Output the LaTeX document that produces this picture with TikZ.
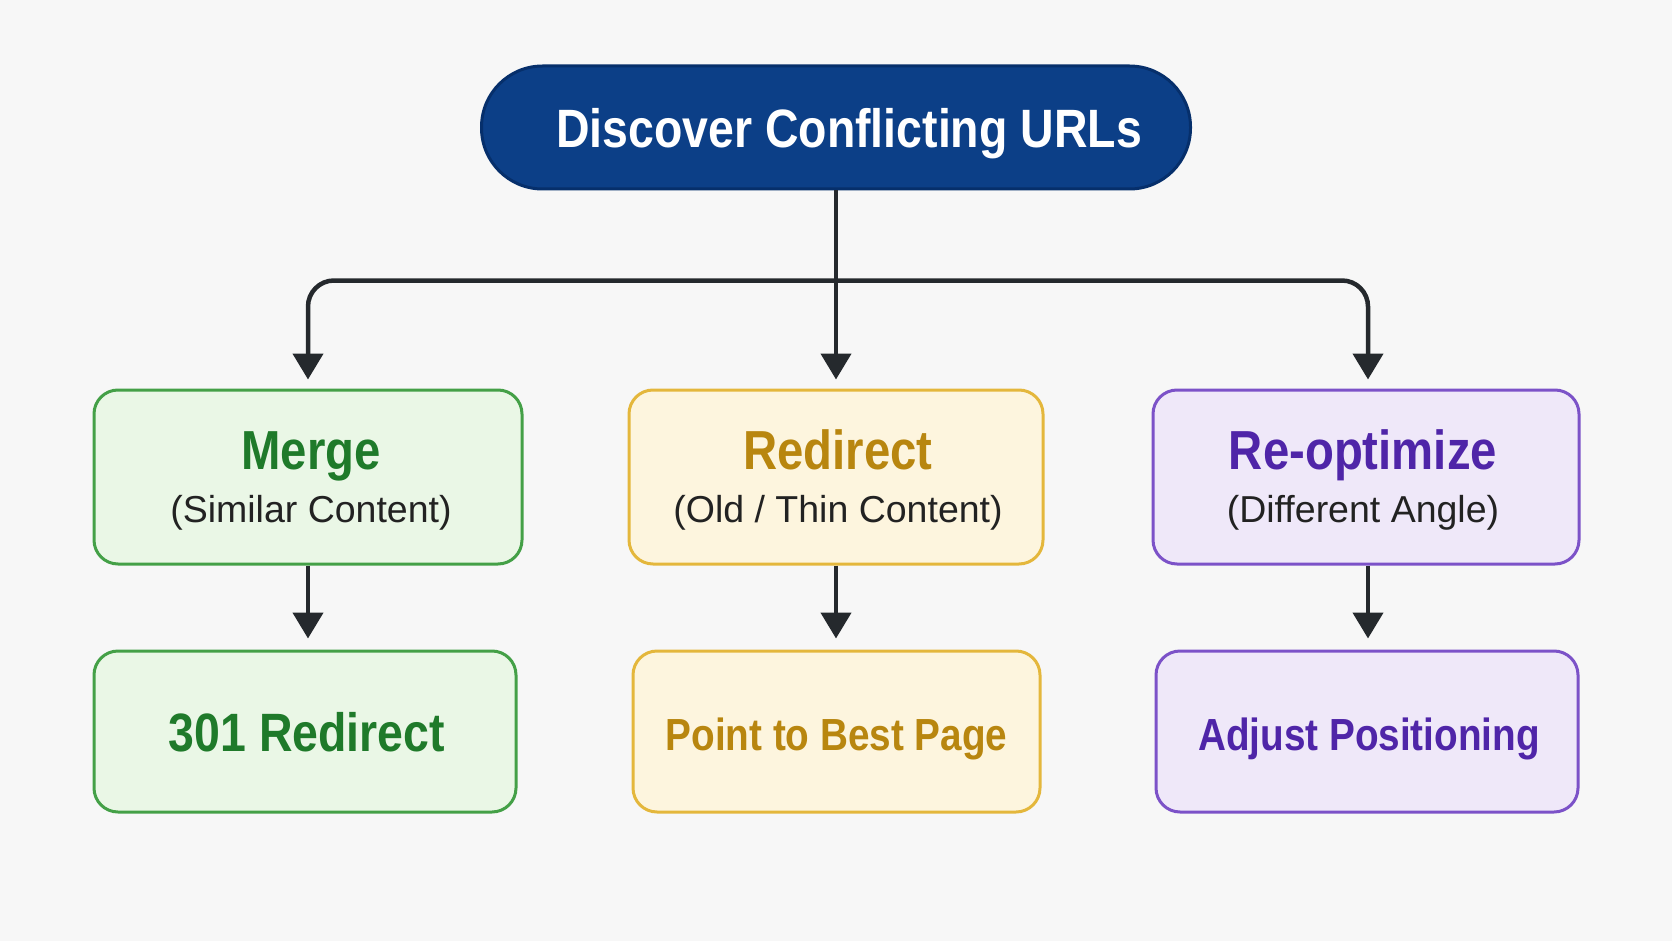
\documentclass[tikz,border=0pt]{standalone}
\usepackage{fontspec}
\setmainfont{Liberation Sans}
\newfontfamily\bfont{Liberation Sans Bold}[FakeStretch=0.86]
\usetikzlibrary{arrows.meta,calc}
\definecolor{bgc}{HTML}{F7F7F7}
\definecolor{navy}{HTML}{0C3F87}
\definecolor{navyb}{HTML}{062F6B}
\definecolor{gfill}{HTML}{EAF7E6}
\definecolor{gline}{HTML}{44A047}
\definecolor{gtext}{HTML}{1F7A2A}
\definecolor{yfill}{HTML}{FDF5DE}
\definecolor{yline}{HTML}{E4B73C}
\definecolor{ytext}{HTML}{B8860F}
\definecolor{pfill}{HTML}{EFE8F9}
\definecolor{pline}{HTML}{7C52C8}
\definecolor{ptext}{HTML}{4F25A8}
\definecolor{arrc}{HTML}{25292D}
\definecolor{subc}{HTML}{222222}
\begin{document}
\begin{tikzpicture}[x=1pt,y=-1pt,
  box/.style={draw, line width=3pt, rounded corners=24pt, inner sep=0pt},
  midbox/.style={box, minimum height=174pt},
  lowbox/.style={box, minimum height=161pt},
  gbox/.style={fill=gfill, draw=gline},
  ybox/.style={fill=yfill, draw=yline},
  pbox/.style={fill=pfill, draw=pline},
  titletext/.style={anchor=base, inner sep=0pt, font=\bfont\fontsize{55}{60}\selectfont},
  lowtext/.style={anchor=base, inner sep=0pt, font=\bfont\fontsize{45}{50}\selectfont},
  subtext/.style={anchor=base, inner sep=0pt, text=subc, font=\fontsize{37.5}{42}\selectfont},
  arr/.style={draw=arrc, line width=4.5pt, -{Triangle[length=26pt,width=30pt]}}
]
\fill[bgc] (0,0) rectangle (1672,941);
\useasboundingbox (0,0) rectangle (1672,941);

% top node
\node[draw=navyb, fill=navy, line width=3pt, rounded corners=61pt,
      minimum width=709pt, minimum height=123pt, inner sep=0pt] (top) at (836,127.5) {};
\node[anchor=base, inner sep=0pt, text=white, font=\bfont\fontsize{54}{60}\selectfont]
  (toptxt) at ($(top.center)+(13,20)$) {Discover Conflicting URLs};

% middle row
\node[midbox, gbox, minimum width=428pt] (merge) at (308,477) {};
\node[midbox, ybox, minimum width=414pt] (redir) at (836,477) {};
\node[midbox, pbox, minimum width=426pt] (reopt) at (1366,477) {};

\node[titletext, text=gtext] (mergeT) at ($(merge.center)+(3,-8)$) {Merge};
\node[subtext] (mergeS) at ($(merge.center)+(3,45)$) {(Similar Content)};
\node[titletext, text=ytext] (redirT) at ($(redir.center)+(2,-8)$) {Redirect};
\node[subtext] (redirS) at ($(redir.center)+(2,45)$) {(Old / Thin Content)};
\node[titletext, text=ptext] (reoptT) at ($(reopt.center)+(-3,-8)$) {Re-optimize};
\node[subtext] (reoptS) at ($(reopt.center)+(-3,45)$) {(Different Angle)};

% bottom row
\node[lowbox, gbox, minimum width=422pt] (r301) at (305,731.5) {};
\node[lowbox, ybox, minimum width=407pt] (best) at (836.5,731.5) {};
\node[lowbox, pbox, minimum width=422pt] (adjust) at (1367,731.5) {};

\node[titletext, text=gtext, font=\bfont\fontsize{54}{60}\selectfont] (r301T) at ($(r301.center)+(2,20)$) {301 Redirect};
\node[lowtext, text=ytext] (bestT) at ($(best.center)+(0,19)$) {Point to Best Page};
\node[lowtext, text=ptext] (adjustT) at ($(adjust.center)+(2,19)$) {Adjust Positioning};

% connectors
\coordinate (jc) at ($(top.south)+(0,90)$);
\draw[arr] (top.south) -- ($(top.south |- redir.north)+(0,-9)$);
\draw[arr, rounded corners=26pt] (jc) -| ($(merge.north)+(0,-9)$);
\draw[arr, rounded corners=26pt] (jc) -| ($(reopt.north)+(2,-9)$);

\draw[arr] (merge.south) -- ($(merge.south |- r301.north)+(0,-11)$);
\draw[arr] (redir.south) -- ($(redir.south |- best.north)+(0,-11)$);
\draw[arr] ($(reopt.south)+(2,0)$) -- ($(reopt.south |- adjust.north)+(2,-11)$);
\end{tikzpicture}
\end{document}
